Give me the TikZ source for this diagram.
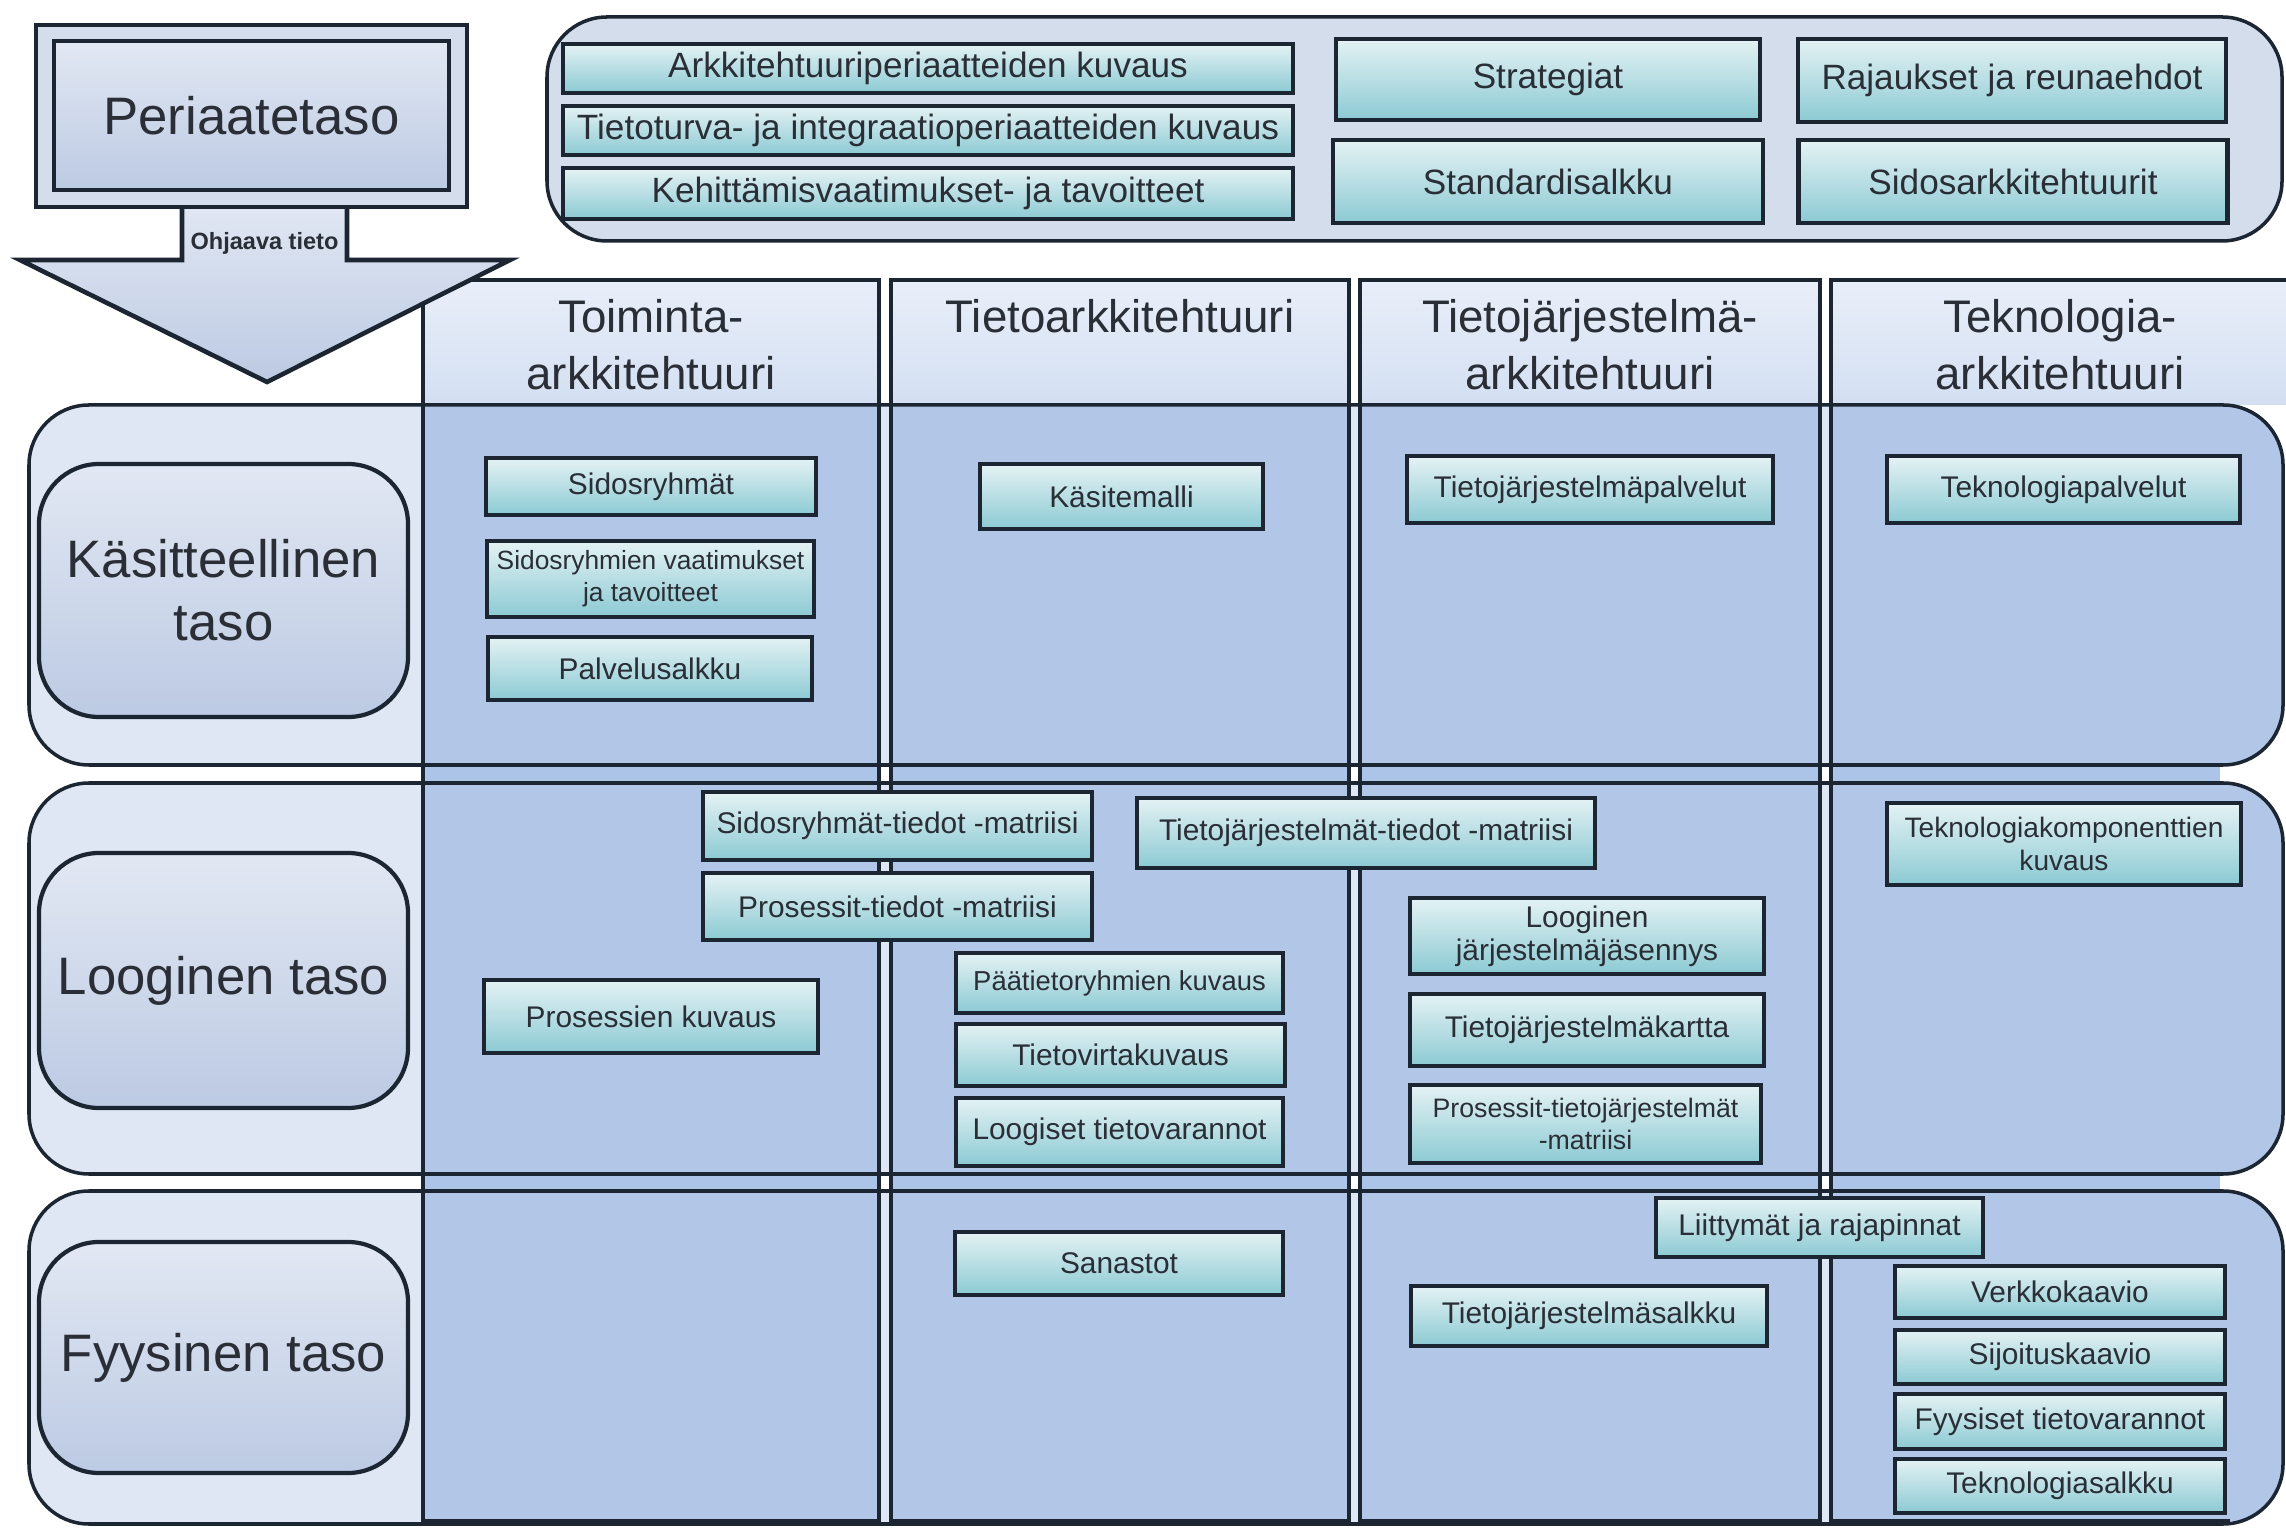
\documentclass[tikz,border=0pt]{standalone}
\usepackage{fontspec}
\setmainfont{Liberation Sans}
\usetikzlibrary{positioning}

\definecolor{inkline}{HTML}{1C2632}
\definecolor{inktext}{HTML}{2A2E36}
\definecolor{celltop}{HTML}{E4F2F4}
\definecolor{cellbot}{HTML}{8CCAD3}
\definecolor{pagefill}{HTML}{D4DDEC}
\definecolor{headtop}{HTML}{E9EFF9}
\definecolor{headbot}{HTML}{D3DFF2}
\definecolor{colbody}{HTML}{ADC4E9}
\definecolor{rowfill}{HTML}{B9CAE6}
\definecolor{tasotop}{HTML}{E2E8F3}
\definecolor{tasobot}{HTML}{BCCAE3}

\tikzset{
  cellbox/.style={draw=inkline, line width=1.2pt, top color=celltop, bottom color=cellbot,
    text=inktext, font=\fontsize{8.5}{9.5}\selectfont, align=center, inner sep=1pt,
    minimum width=3.27cm, minimum height=0.6cm},
  topbox/.style={cellbox, font=\fontsize{10}{12}\selectfont},
  tasobox/.style={draw=inkline, line width=1.2pt, rounded corners=0.6cm, top color=tasotop,
    bottom color=tasobot, text=inktext, align=center, font=\fontsize{15}{18}\selectfont,
    minimum width=3.69cm},
  rowband/.style={draw=inkline, line width=1pt, rounded corners=0.6cm, fill=rowfill, fill opacity=0.45},
  colline/.style={draw=inkline, line width=1pt},
  colhead/.style={text=inktext, align=center, anchor=north, inner sep=0pt,
    font=\fontsize{13}{16}\selectfont}
}

\begin{document}
\begin{tikzpicture}[y=-1cm]
  \useasboundingbox (0,0) rectangle (22.86,15.34);

  % sarakkeet
  \fill[colbody] (4.23,4.05) rectangle (8.79,15.21);
  \fill[colbody] (8.91,4.05) rectangle (13.49,15.21);
  \fill[colbody] (13.60,4.05) rectangle (18.20,15.21);
  \fill[colbody] (18.31,4.05) rectangle (22.20,15.21);
  \begin{scope}
    \clip[rounded corners=0.6cm] (0.29,4.05) rectangle (22.83,7.65) (0.29,7.83) rectangle (22.83,11.74)
      (0.29,11.91) rectangle (22.83,15.24);
    \fill[colbody] (22.15,4.05) rectangle (22.90,15.21);
  \end{scope}
  \shade[top color=headtop, bottom color=headbot] (4.23,2.80) rectangle (8.79,4.05);
  \shade[top color=headtop, bottom color=headbot] (8.91,2.80) rectangle (13.49,4.05);
  \shade[top color=headtop, bottom color=headbot] (13.60,2.80) rectangle (18.20,4.05);
  \shade[top color=headtop, bottom color=headbot] (18.31,2.80) rectangle (22.90,4.05);

  % tasot
  \draw[rowband] (0.29,4.05) rectangle (22.83,7.65);
  \draw[rowband] (0.29,7.83) rectangle (22.83,11.74);
  \draw[rowband] (0.29,11.91) rectangle (22.83,15.24);

  \draw[colline] (4.23,2.80) rectangle (8.79,15.21);
  \draw[colline] (8.91,2.80) rectangle (13.49,15.21);
  \draw[colline] (13.60,2.80) rectangle (18.20,15.21);
  \draw[colline] (22.90,2.80) -- (18.31,2.80) -- (18.31,15.21) -- (22.30,15.21);

  \node (toiminta) at (6.51,2.99)[colhead]{Toiminta-\\arkkitehtuuri};
  \node (tietoark) at (11.20,2.99)[colhead]{Tietoarkkitehtuuri};
  \node (tjark) at (15.90,2.99)[colhead]{Tietojärjestelmä-\\arkkitehtuuri};
  \node (tekark) at (20.60,2.99)[colhead]{Teknologia-\\arkkitehtuuri};

  \node (kasitteellinen) at (2.235,5.905)[tasobox, minimum height=2.53cm]{Käsitteellinen\\taso};
  \node (looginen) at (2.235,9.805)[tasobox, minimum height=2.55cm]{Looginen taso};
  \node (fyysinen) at (2.235,13.575)[tasobox, minimum height=2.31cm]{Fyysinen taso};

  % ohjaava tieto -nuoli ja periaatetaso
  \draw[draw=inkline, line width=1.3pt, top color=tasotop, bottom color=tasobot, line join=miter]
    (1.82,2.0) -- (1.82,2.60) -- (0.20,2.60) -- (2.67,3.82) -- (5.10,2.60) -- (3.47,2.60) -- (3.47,2.0) -- cycle;
  \node (ohjaava) at (2.645,2.43)[text=inktext, font=\bfseries\fontsize{6.7}{8}\selectfont]{Ohjaava tieto};
  \node (perikehys) at (2.515,1.16)[draw=inkline, line width=1.4pt, fill=pagefill, minimum width=4.31cm, minimum height=1.82cm]{};
  \node (periaate) at (2.515,1.155)[draw=inkline, line width=1.4pt, top color=tasotop, bottom color=tasobot,
    minimum width=3.95cm, minimum height=1.49cm, text=inktext, font=\fontsize{15}{18}\selectfont]{Periaatetaso};

  \draw[draw=inkline, line width=1pt, rounded corners=0.6cm, fill=pagefill] (5.47,0.17) rectangle (22.82,2.41);
  \node (arkkperiaat) at (9.28,0.685)[topbox, minimum width=7.30cm, minimum height=0.49cm]{Arkkitehtuuriperiaatteiden kuvaus};
  \node (tietoturva) at (9.28,1.305)[topbox, minimum width=7.30cm, minimum height=0.49cm]{Tietoturva- ja integraatioperiaatteiden kuvaus};
  \node (kehitys) at (9.28,1.935)[topbox, minimum width=7.30cm, minimum height=0.51cm]{Kehittämisvaatimukset- ja tavoitteet};
  \node (strategiat) at (15.48,0.795)[topbox, minimum width=4.24cm, minimum height=0.81cm]{Strategiat};
  \node (standardit) at (15.48,1.815)[topbox, minimum width=4.30cm, minimum height=0.83cm]{Standardisalkku};
  \node (rajaukset) at (20.12,0.805)[topbox, minimum width=4.28cm, minimum height=0.83cm]{Rajaukset ja reunaehdot};
  \node (sidosark) at (20.13,1.815)[topbox, minimum width=4.29cm, minimum height=0.83cm]{Sidosarkkitehtuurit};

  % käsitteellinen taso
  \node (sidosryhmat) at (6.51,4.865)[cellbox, minimum width=3.30cm, minimum height=0.57cm]{Sidosryhmät};
  \node (vaatimukset) at (6.505,5.79)[cellbox, minimum height=0.76cm, font=\fontsize{7.5}{9}\selectfont]{Sidosryhmien vaatimukset\\ja tavoitteet};
  \node (palvelusalkku) at (6.50,6.685)[cellbox, minimum width=3.24cm, minimum height=0.63cm]{Palvelusalkku};
  \node (kasitemalli) at (11.215,4.965)[cellbox, minimum width=2.83cm, minimum height=0.65cm]{Käsitemalli};
  \node (tjpalvelut) at (15.90,4.895)[cellbox, minimum width=3.66cm, minimum height=0.67cm]{Tietojärjestelmäpalvelut};
  \node (tekpalvelut) at (20.635,4.895)[cellbox, minimum width=3.53cm, minimum height=0.67cm]{Teknologiapalvelut};

  % looginen taso
  \node (sidosmatriisi) at (8.975,8.26)[cellbox, minimum width=3.89cm, minimum height=0.68cm]{Sidosryhmät-tiedot -matriisi};
  \node (prosmatriisi) at (8.975,9.065)[cellbox, minimum width=3.89cm, minimum height=0.67cm]{Prosessit-tiedot -matriisi};
  \node (tjmatriisi) at (13.66,8.33)[cellbox, minimum width=4.58cm, minimum height=0.70cm]{Tietojärjestelmät-tiedot -matriisi};
  \node (tekkomponentit) at (20.64,8.44)[cellbox, minimum width=3.54cm, minimum height=0.82cm, font=\fontsize{8}{9.5}\selectfont]{Teknologiakomponenttien\\kuvaus};
  \node (prosessit) at (6.51,10.165)[cellbox, minimum width=3.34cm, minimum height=0.73cm]{Prosessien kuvaus};
  \node (paatieto) at (11.195,9.83)[cellbox, minimum height=0.60cm, font=\fontsize{7.8}{9}\selectfont]{Päätietoryhmien kuvaus};
  \node (tietovirta) at (11.205,10.55)[cellbox, minimum width=3.29cm, minimum height=0.62cm]{Tietovirtakuvaus};
  \node (tietovarannot) at (11.195,11.32)[cellbox, minimum height=0.68cm]{Loogiset tietovarannot};
  \node (jarjestelma) at (15.87,9.36)[cellbox, minimum width=3.54cm, minimum height=0.76cm]{Looginen\\järjestelmäjäsennys};
  \node (tjkartta) at (15.87,10.30)[cellbox, minimum width=3.54cm, minimum height=0.72cm]{Tietojärjestelmäkartta};
  \node (prostjmatriisi) at (15.855,11.24)[cellbox, minimum width=3.51cm, minimum height=0.78cm, font=\fontsize{7.6}{9}\selectfont]{Prosessit-tietojärjestelmät\\-matriisi};

  % fyysinen taso
  \node (sanastot) at (11.19,12.635)[cellbox, minimum width=3.28cm, minimum height=0.63cm]{Sanastot};
  \node (tjsalkku) at (15.89,13.16)[cellbox, minimum width=3.56cm, minimum height=0.60cm]{Tietojärjestelmäsalkku};
  \node (liittymat) at (18.195,12.275)[cellbox, minimum width=3.27cm, minimum height=0.59cm]{Liittymät ja rajapinnat};
  \node (verkko) at (20.60,12.92)[cellbox, minimum width=3.30cm, minimum height=0.52cm]{Verkkokaavio};
  \node (sijoitus) at (20.60,13.57)[cellbox, minimum width=3.30cm, minimum height=0.54cm]{Sijoituskaavio};
  \node (fyysiset) at (20.60,14.215)[cellbox, minimum width=3.30cm, minimum height=0.55cm]{Fyysiset tietovarannot};
  \node (teksalkku) at (20.60,14.86)[cellbox, minimum width=3.30cm, minimum height=0.54cm]{Teknologiasalkku};
\end{tikzpicture}
\end{document}
